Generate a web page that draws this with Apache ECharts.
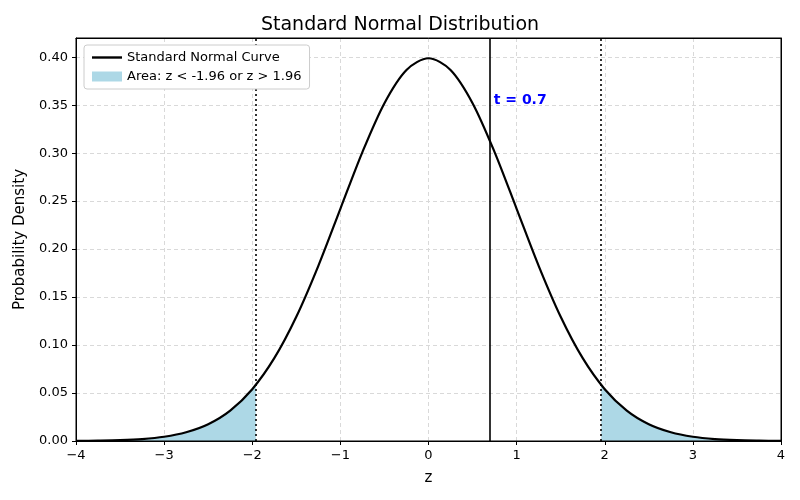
<!DOCTYPE html>
<html><head><meta charset="utf-8">
<script src="https://cdn.jsdelivr.net/npm/echarts@6/dist/echarts.min.js"></script>
<style>html,body{margin:0;padding:0}#c{width:800px;height:500px}</style>
</head><body><div id="c"></div>
<script>
// values
const zValues = [-4,-3.75,-3.5,-3.25,-3,-2.75,-2.5,-2.25,-2,-1.75,-1.5,-1.25,-1,-0.75,-0.5,-0.25,0,0.25,0.5,0.75,1,1.25,1.5,1.75,2,2.25,2.5,2.75,3,3.25,3.5,3.75,4];
const density = [0.0001,0.0004,0.0009,0.0020,0.0044,0.0091,0.0175,0.0317,0.0540,0.0863,0.1295,0.1826,0.2420,0.3011,0.3521,0.3867,0.3989,0.3867,0.3521,0.3011,0.2420,0.1826,0.1295,0.0863,0.0540,0.0317,0.0175,0.0091,0.0044,0.0020,0.0009,0.0004,0.0001];
const leftTailZ = [-4,-3.75,-3.5,-3.25,-3,-2.75,-2.5,-2.25,-2,-1.96];
const leftTailD = [0.0001,0.0004,0.0009,0.0020,0.0044,0.0091,0.0175,0.0317,0.0540,0.0584];
const rightTailZ = [1.96,2,2.25,2.5,2.75,3,3.25,3.5,3.75,4];
const rightTailD = [0.0584,0.0540,0.0317,0.0175,0.0091,0.0044,0.0020,0.0009,0.0004,0.0001];
const critical = [-1.96, 1.96];
const tValue = 0.7;

const zip = (a,b)=>a.map((v,i)=>[v,b[i]]);
const curveName = 'Standard Normal Curve';
const areaName = 'Area: z < -1.96 or z > 1.96';
const chart = echarts.init(document.getElementById('c'));
const split = {show:true,lineStyle:{color:'#d9d9d9',type:[4,3]}};
const font = 'DejaVu Sans';
chart.setOption({
  animation:false,
  title:{text:'Standard Normal Distribution',left:'center',top:11,textStyle:{fontSize:19,fontWeight:'normal',color:'#000',fontFamily:font}},
  grid:{left:76,right:19,top:38,bottom:59,show:true,borderColor:'#000',borderWidth:1,z:4},
  legend:{left:84,top:45,z:20,orient:'vertical',itemGap:6,itemWidth:30,itemHeight:10,
    backgroundColor:'#fff',borderColor:'#ccc',borderWidth:1,borderRadius:3,padding:[6,8],
    textStyle:{fontSize:13,fontFamily:font,color:'#000'},
    data:[{name:curveName,icon:'path://M0,0H30V2.4H0Z'},{name:areaName,icon:'rect'}]},
  xAxis:[{type:'value',min:-4,max:4,interval:1,name:'z',nameLocation:'middle',nameGap:30,
    nameTextStyle:{fontSize:15,fontFamily:font,color:'#000'},
    axisLine:{onZero:false,lineStyle:{color:'#000'}},axisTick:{show:true,length:4,lineStyle:{color:'#000'}},
    axisLabel:{fontSize:13,color:'#000',fontFamily:font,formatter:v=>String(v).replace('-','−')},splitLine:split},
    {type:'value',position:'top',min:-4,max:4,axisLine:{show:true,onZero:false,lineStyle:{color:'#000'}},axisTick:{show:false},axisLabel:{show:false},splitLine:{show:false}}],
  yAxis:[{type:'value',min:0,max:0.42,interval:0.05,name:'Probability Density',nameLocation:'middle',nameGap:48,
    nameTextStyle:{fontSize:15,fontFamily:font,color:'#000'},
    axisLine:{show:true,onZero:false,lineStyle:{color:'#000'}},axisTick:{show:true,length:4,lineStyle:{color:'#000'}},
    axisLabel:{fontSize:13,color:'#000',fontFamily:font,formatter:v=>v.toFixed(2),showMaxLabel:false},splitLine:split},
    {type:'value',position:'right',min:0,max:0.42,axisLine:{show:true,onZero:false,lineStyle:{color:'#000'}},axisTick:{show:false},axisLabel:{show:false},splitLine:{show:false}}],
  series:[
    {name:areaName,type:'line',data:zip(leftTailZ,leftTailD),smooth:0.3,symbol:'none',lineStyle:{width:0},areaStyle:{color:'#add8e6',opacity:1},itemStyle:{color:'#add8e6'},z:1},
    {name:areaName,type:'line',data:zip(rightTailZ,rightTailD),smooth:0.3,symbol:'none',lineStyle:{width:0},areaStyle:{color:'#add8e6',opacity:1},itemStyle:{color:'#add8e6'},z:1},
    {name:curveName,type:'line',data:zip(zValues,density),smooth:0.3,symbol:'none',lineStyle:{color:'#000',width:2.2},itemStyle:{color:'#000'},z:3,
      markLine:{silent:true,symbol:'none',label:{show:false},data:[
        {xAxis:critical[0],lineStyle:{color:'#000',type:[2,3],width:1.6}},
        {xAxis:critical[1],lineStyle:{color:'#000',type:[2,3],width:1.6}},
        {xAxis:tValue,lineStyle:{color:'#000',type:'solid',width:1.6}}]},
      markPoint:{silent:true,symbol:'circle',symbolSize:0,data:[{coord:[tValue+0.04,0.355],
        label:{show:true,position:'right',distance:0,formatter:'t = '+tValue,color:'#0000ff',fontWeight:'bold',fontSize:14,fontFamily:font}}]}}
  ]
});
</script></body></html>
